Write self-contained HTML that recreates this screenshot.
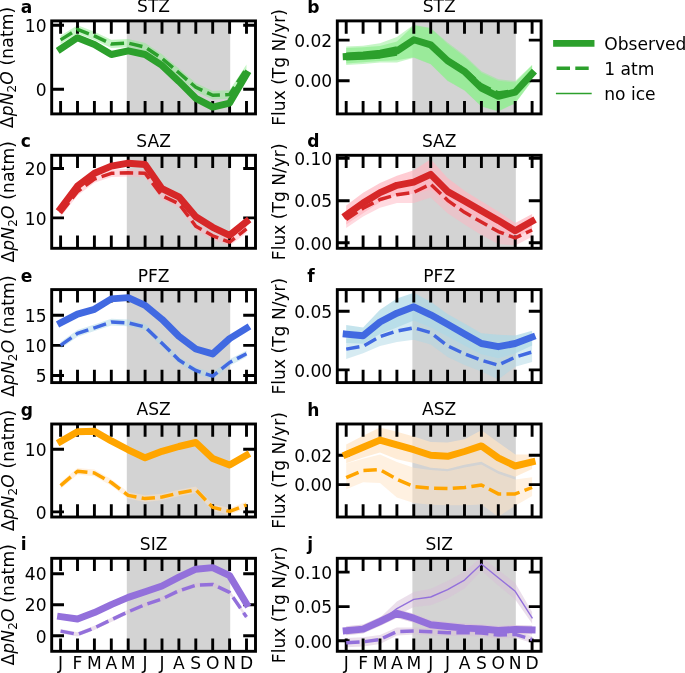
<!DOCTYPE html>
<html lang="en"><head><meta charset="utf-8"><title>Seasonal cycle of N2O by zone</title>
<style>html,body{margin:0;padding:0;background:#fff}body{width:685px;height:673px;overflow:hidden}svg{display:block}text{font-family:"DejaVu Sans","Liberation Sans",sans-serif;font-size:17.10px;fill:#000}.b{font-weight:bold}.i{font-style:oblique}</style></head><body>
<svg width="685" height="673" viewBox="0 0 685 673">
<rect width="685" height="673" fill="#fff"/>
<!-- panel a -->
<clipPath id="cpa"><rect x="51.7" y="20.9" width="203.8" height="93.0"/></clipPath>
<g clip-path="url(#cpa)">
<rect x="126.8" y="20.9" width="103.4" height="93.0" fill="#d3d3d3"/>
<polygon points="60.6,45.9 77.5,34.7 94.4,41.4 111.3,51.5 128.2,47.8 145.1,51.5 162.0,62.4 178.9,78.4 195.8,95.3 212.7,104.1 229.6,100.1 246.5,71.3 246.5,77.3 229.6,106.1 212.7,110.1 195.8,101.3 178.9,84.4 162.0,68.4 145.1,57.5 128.2,53.8 111.3,57.5 94.4,47.4 77.5,40.7 60.6,51.9" fill="#90ee90" fill-opacity="0.7"/>
<polygon points="60.6,35.7 77.5,25.2 94.4,31.7 111.3,39.7 128.2,38.9 145.1,42.9 162.0,54.2 178.9,68.6 195.8,83.1 212.7,91.1 229.6,90.3 246.5,64.4 246.5,72.8 229.6,98.7 212.7,99.5 195.8,91.5 178.9,77.0 162.0,62.6 145.1,51.3 128.2,47.3 111.3,48.1 94.4,40.1 77.5,33.6 60.6,44.1" fill="#90ee90" fill-opacity="0.5"/>
<path d="M60.6 20.9v12.8M60.6 113.9v-12.8M77.5 20.9v12.8M77.5 113.9v-12.8M94.4 20.9v12.8M94.4 113.9v-12.8M111.3 20.9v12.8M111.3 113.9v-12.8M128.2 20.9v12.8M128.2 113.9v-12.8M145.1 20.9v12.8M145.1 113.9v-12.8M162.0 20.9v12.8M162.0 113.9v-12.8M178.9 20.9v12.8M178.9 113.9v-12.8M195.8 20.9v12.8M195.8 113.9v-12.8M212.7 20.9v12.8M212.7 113.9v-12.8M229.6 20.9v12.8M229.6 113.9v-12.8M246.5 20.9v12.8M246.5 113.9v-12.8M51.7 25.3h12.3M255.5 25.3h-12.3M51.7 89.2h12.3M255.5 89.2h-12.3" stroke="#000" stroke-width="2.90" fill="none"/>
<polyline points="60.6,48.9 77.5,37.7 94.4,44.4 111.3,54.5 128.2,50.8 145.1,54.5 162.0,65.4 178.9,81.4 195.8,98.3 212.7,107.1 229.6,103.1 246.5,74.3" fill="none" stroke="#2ca02c" stroke-width="6.94" stroke-linecap="square" stroke-linejoin="round"/>
<polyline points="60.6,39.9 77.5,29.4 94.4,35.9 111.3,43.9 128.2,43.1 145.1,47.1 162.0,58.4 178.9,72.8 195.8,87.3 212.7,95.3 229.6,94.5 246.5,68.6" fill="none" stroke="#2ca02c" stroke-width="3.47" stroke-dasharray="13.4 5.3" stroke-linejoin="round"/>
</g>
<rect x="51.7" y="20.9" width="203.8" height="93.0" fill="none" stroke="#000" stroke-width="2.90"/>
<text x="153.6" y="12.2" text-anchor="middle">STZ</text>
<text class="b" x="20.8" y="12.6">a</text>
<text x="46.6" y="32.0" text-anchor="end">10</text>
<text x="46.6" y="95.9" text-anchor="end">0</text>
<text transform="translate(13.3 67.4) rotate(-90)" text-anchor="middle" letter-spacing="0.15">Δ<tspan class="i">pN</tspan><tspan font-size="11.97px" dy="2.8">2</tspan><tspan class="i" dy="-2.8">O</tspan> (natm)</text>
<!-- panel b -->
<clipPath id="cpb"><rect x="337.3" y="20.9" width="203.8" height="93.0"/></clipPath>
<g clip-path="url(#cpb)">
<rect x="412.4" y="20.9" width="103.4" height="93.0" fill="#d3d3d3"/>
<polygon points="346.2,46.5 363.1,45.7 380.0,43.3 396.9,37.0 413.8,24.8 430.7,28.0 447.6,42.4 464.5,55.2 481.4,71.3 498.3,79.3 515.2,80.9 532.1,64.9 532.1,80.9 515.2,103.4 498.3,111.4 481.4,106.6 464.5,90.6 447.6,80.9 430.7,64.2 413.8,57.8 396.9,62.4 380.0,62.6 363.1,63.9 346.2,65.0" fill="#90ee90" fill-opacity="0.5"/>
<polygon points="346.2,48.1 363.1,47.3 380.0,45.9 396.9,41.6 413.8,25.4 430.7,28.3 447.6,43.9 464.5,56.7 481.4,72.8 498.3,80.8 515.2,82.4 532.1,65.2 532.1,80.6 515.2,103.1 498.3,111.1 481.4,106.3 464.5,90.3 447.6,80.6 430.7,63.9 413.8,57.2 396.9,60.3 380.0,61.0 363.1,62.3 346.2,63.4" fill="#90ee90" fill-opacity="0.7"/>
<path d="M346.2 20.9v12.8M346.2 113.9v-12.8M363.1 20.9v12.8M363.1 113.9v-12.8M380.0 20.9v12.8M380.0 113.9v-12.8M396.9 20.9v12.8M396.9 113.9v-12.8M413.8 20.9v12.8M413.8 113.9v-12.8M430.7 20.9v12.8M430.7 113.9v-12.8M447.6 20.9v12.8M447.6 113.9v-12.8M464.5 20.9v12.8M464.5 113.9v-12.8M481.4 20.9v12.8M481.4 113.9v-12.8M498.3 20.9v12.8M498.3 113.9v-12.8M515.2 20.9v12.8M515.2 113.9v-12.8M532.1 20.9v12.8M532.1 113.9v-12.8M337.3 40.1h12.3M541.1 40.1h-12.3M337.3 80.7h12.3M541.1 80.7h-12.3" stroke="#000" stroke-width="2.90" fill="none"/>
<polyline points="346.2,56.0 363.1,54.9 380.0,52.9 396.9,49.1 413.8,39.8 430.7,45.5 447.6,59.6 464.5,69.3 481.4,84.9 498.3,92.9 515.2,90.6 532.1,73.1" fill="none" stroke="#2ca02c" stroke-width="3.47" stroke-dasharray="13.4 5.3" stroke-linejoin="round"/>
<polyline points="346.2,54.3 363.1,53.3 380.0,51.5 396.9,48.0" fill="none" stroke="#2ca02c" stroke-width="3.47" stroke-linejoin="round"/>
<polyline points="346.2,58.7 363.1,58.1 380.0,56.9 396.9,54.0" fill="none" stroke="#2ca02c" stroke-width="3.47" stroke-linejoin="round"/>
<polyline points="346.2,56.5 363.1,55.7 380.0,54.2 396.9,51.0 413.8,39.8 430.7,44.9 447.6,60.8 464.5,71.5 481.4,88.1 498.3,96.3 515.2,92.1 532.1,73.6" fill="none" stroke="#2ca02c" stroke-width="6.94" stroke-linecap="square" stroke-linejoin="round"/>
</g>
<rect x="337.3" y="20.9" width="203.8" height="93.0" fill="none" stroke="#000" stroke-width="2.90"/>
<text x="439.2" y="12.2" text-anchor="middle">STZ</text>
<text class="b" x="307.3" y="12.6">b</text>
<text x="332.2" y="46.8" text-anchor="end">0.02</text>
<text x="332.2" y="87.4" text-anchor="end">0.00</text>
<text transform="translate(284.5 67.4) rotate(-90)" text-anchor="middle">Flux (Tg N/yr)</text>
<!-- panel c -->
<clipPath id="cpc"><rect x="51.7" y="155.3" width="203.8" height="93.0"/></clipPath>
<g clip-path="url(#cpc)">
<rect x="126.8" y="155.3" width="103.4" height="93.0" fill="#d3d3d3"/>
<polygon points="60.6,206.1 77.5,183.6 94.4,170.8 111.3,163.6 128.2,160.7 145.1,162.0 162.0,186.2 178.9,194.3 195.8,214.3 212.7,224.8 229.6,232.8 246.5,219.2 246.5,224.2 229.6,237.8 212.7,229.8 195.8,219.3 178.9,199.3 162.0,191.2 145.1,167.0 128.2,165.7 111.3,168.6 94.4,175.8 77.5,188.6 60.6,211.1" fill="#ffb6c1" fill-opacity="0.7"/>
<polygon points="60.6,209.4 77.5,187.8 94.4,175.2 111.3,169.5 128.2,169.0 145.1,169.5 162.0,191.9 178.9,199.9 195.8,222.4 212.7,232.0 229.6,238.4 246.5,225.1 246.5,232.7 229.6,246.0 212.7,239.6 195.8,230.0 178.9,207.5 162.0,199.5 145.1,177.1 128.2,176.6 111.3,177.1 94.4,182.8 77.5,195.4 60.6,217.0" fill="#ffb6c1" fill-opacity="0.5"/>
<path d="M60.6 155.3v12.8M60.6 248.3v-12.8M77.5 155.3v12.8M77.5 248.3v-12.8M94.4 155.3v12.8M94.4 248.3v-12.8M111.3 155.3v12.8M111.3 248.3v-12.8M128.2 155.3v12.8M128.2 248.3v-12.8M145.1 155.3v12.8M145.1 248.3v-12.8M162.0 155.3v12.8M162.0 248.3v-12.8M178.9 155.3v12.8M178.9 248.3v-12.8M195.8 155.3v12.8M195.8 248.3v-12.8M212.7 155.3v12.8M212.7 248.3v-12.8M229.6 155.3v12.8M229.6 248.3v-12.8M246.5 155.3v12.8M246.5 248.3v-12.8M51.7 168.5h12.3M255.5 168.5h-12.3M51.7 217.9h12.3M255.5 217.9h-12.3" stroke="#000" stroke-width="2.90" fill="none"/>
<polyline points="60.6,208.6 77.5,186.1 94.4,173.3 111.3,166.1 128.2,163.2 145.1,164.5 162.0,188.7 178.9,196.8 195.8,216.8 212.7,227.3 229.6,235.3 246.5,221.7" fill="none" stroke="#d62728" stroke-width="6.94" stroke-linecap="square" stroke-linejoin="round"/>
<polyline points="60.6,213.2 77.5,191.6 94.4,179.0 111.3,173.3 128.2,172.8 145.1,173.3 162.0,195.7 178.9,203.7 195.8,226.2 212.7,235.8 229.6,242.2 246.5,228.9" fill="none" stroke="#d62728" stroke-width="3.47" stroke-dasharray="13.4 5.3" stroke-linejoin="round"/>
</g>
<rect x="51.7" y="155.3" width="203.8" height="93.0" fill="none" stroke="#000" stroke-width="2.90"/>
<text x="153.6" y="146.6" text-anchor="middle">SAZ</text>
<text class="b" x="20.8" y="147.0">c</text>
<text x="46.6" y="175.2" text-anchor="end">20</text>
<text x="46.6" y="224.6" text-anchor="end">10</text>
<text transform="translate(13.7 201.8) rotate(-90)" text-anchor="middle" letter-spacing="0.15">Δ<tspan class="i">pN</tspan><tspan font-size="11.97px" dy="2.8">2</tspan><tspan class="i" dy="-2.8">O</tspan> (natm)</text>
<!-- panel d -->
<clipPath id="cpd"><rect x="337.3" y="155.3" width="203.8" height="93.0"/></clipPath>
<g clip-path="url(#cpd)">
<rect x="412.4" y="155.3" width="103.4" height="93.0" fill="#d3d3d3"/>
<polygon points="346.2,205.5 363.1,192.7 380.0,183.0 396.9,175.8 413.8,170.2 430.7,159.3 447.6,177.9 464.5,190.7 481.4,201.2 498.3,211.6 515.2,222.9 532.1,214.0 532.1,228.4 515.2,238.7 498.3,229.2 481.4,220.2 464.5,211.5 447.6,204.9 430.7,189.5 413.8,194.0 396.9,194.8 380.0,202.2 363.1,213.3 346.2,224.5" fill="#ffb6c1" fill-opacity="0.7"/>
<polygon points="346.2,211.3 363.1,200.0 380.0,191.2 396.9,186.4 413.8,181.6 430.7,171.0 447.6,187.3 464.5,200.0 481.4,209.0 498.3,219.3 515.2,230.5 532.1,223.3 532.1,236.7 515.2,245.5 498.3,243.9 481.4,235.0 464.5,224.6 447.6,213.3 430.7,197.4 413.8,203.0 396.9,203.0 380.0,207.8 363.1,216.6 346.2,227.9" fill="#ffb6c1" fill-opacity="0.5"/>
<path d="M346.2 155.3v12.8M346.2 248.3v-12.8M363.1 155.3v12.8M363.1 248.3v-12.8M380.0 155.3v12.8M380.0 248.3v-12.8M396.9 155.3v12.8M396.9 248.3v-12.8M413.8 155.3v12.8M413.8 248.3v-12.8M430.7 155.3v12.8M430.7 248.3v-12.8M447.6 155.3v12.8M447.6 248.3v-12.8M464.5 155.3v12.8M464.5 248.3v-12.8M481.4 155.3v12.8M481.4 248.3v-12.8M498.3 155.3v12.8M498.3 248.3v-12.8M515.2 155.3v12.8M515.2 248.3v-12.8M532.1 155.3v12.8M532.1 248.3v-12.8M337.3 158.2h12.3M541.1 158.2h-12.3M337.3 200.7h12.3M541.1 200.7h-12.3M337.3 242.8h12.3M541.1 242.8h-12.3" stroke="#000" stroke-width="2.90" fill="none"/>
<polyline points="346.2,215.0 363.1,203.0 380.0,192.6 396.9,185.3 413.8,182.1 430.7,174.4 447.6,191.4 464.5,201.1 481.4,210.7 498.3,220.4 515.2,230.8 532.1,221.2" fill="none" stroke="#d62728" stroke-width="6.94" stroke-linecap="square" stroke-linejoin="round"/>
<polyline points="346.2,219.6 363.1,208.3 380.0,199.5 396.9,194.7 413.8,192.3 430.7,184.2 447.6,200.3 464.5,212.3 481.4,222.0 498.3,231.6 515.2,238.0 532.1,230.0" fill="none" stroke="#d62728" stroke-width="3.47" stroke-dasharray="13.4 5.3" stroke-linejoin="round"/>
</g>
<rect x="337.3" y="155.3" width="203.8" height="93.0" fill="none" stroke="#000" stroke-width="2.90"/>
<text x="439.2" y="146.6" text-anchor="middle">SAZ</text>
<text class="b" x="307.3" y="147.0">d</text>
<text x="332.2" y="164.9" text-anchor="end">0.10</text>
<text x="332.2" y="207.4" text-anchor="end">0.05</text>
<text x="332.2" y="249.5" text-anchor="end">0.00</text>
<text transform="translate(284.5 201.8) rotate(-90)" text-anchor="middle">Flux (Tg N/yr)</text>
<!-- panel e -->
<clipPath id="cpe"><rect x="51.7" y="289.6" width="203.8" height="93.0"/></clipPath>
<g clip-path="url(#cpe)">
<rect x="126.8" y="289.6" width="103.4" height="93.0" fill="#d3d3d3"/>
<polygon points="60.6,320.4 77.5,311.6 94.4,306.8 111.3,296.4 128.2,295.1 145.1,302.8 162.0,316.8 178.9,333.7 195.8,346.5 212.7,351.4 229.6,336.1 246.5,325.7 246.5,330.7 229.6,341.1 212.7,356.4 195.8,351.5 178.9,338.7 162.0,321.8 145.1,307.8 128.2,300.1 111.3,301.4 94.4,311.8 77.5,316.6 60.6,325.4" fill="#add8e6" fill-opacity="0.7"/>
<polygon points="60.6,342.1 77.5,330.1 94.4,324.5 111.3,318.8 128.2,319.6 145.1,323.7 162.0,339.9 178.9,356.8 195.8,367.2 212.7,372.8 229.6,359.2 246.5,350.4 246.5,357.0 229.6,365.8 212.7,379.4 195.8,373.8 178.9,363.4 162.0,346.5 145.1,330.3 128.2,326.2 111.3,325.4 94.4,331.1 77.5,336.7 60.6,348.7" fill="#add8e6" fill-opacity="0.5"/>
<path d="M60.6 289.6v12.8M60.6 382.6v-12.8M77.5 289.6v12.8M77.5 382.6v-12.8M94.4 289.6v12.8M94.4 382.6v-12.8M111.3 289.6v12.8M111.3 382.6v-12.8M128.2 289.6v12.8M128.2 382.6v-12.8M145.1 289.6v12.8M145.1 382.6v-12.8M162.0 289.6v12.8M162.0 382.6v-12.8M178.9 289.6v12.8M178.9 382.6v-12.8M195.8 289.6v12.8M195.8 382.6v-12.8M212.7 289.6v12.8M212.7 382.6v-12.8M229.6 289.6v12.8M229.6 382.6v-12.8M246.5 289.6v12.8M246.5 382.6v-12.8M51.7 315.2h12.3M255.5 315.2h-12.3M51.7 345.4h12.3M255.5 345.4h-12.3M51.7 375.5h12.3M255.5 375.5h-12.3" stroke="#000" stroke-width="2.90" fill="none"/>
<polyline points="60.6,322.9 77.5,314.1 94.4,309.3 111.3,298.9 128.2,297.6 145.1,305.3 162.0,319.3 178.9,336.2 195.8,349.0 212.7,353.9 229.6,338.6 246.5,328.2" fill="none" stroke="#4169e1" stroke-width="6.94" stroke-linecap="square" stroke-linejoin="round"/>
<polyline points="60.6,345.4 77.5,333.4 94.4,327.8 111.3,322.1 128.2,322.9 145.1,327.0 162.0,343.2 178.9,360.1 195.8,370.5 212.7,376.1 229.6,362.5 246.5,353.7" fill="none" stroke="#4169e1" stroke-width="3.47" stroke-dasharray="13.4 5.3" stroke-linejoin="round"/>
</g>
<rect x="51.7" y="289.6" width="203.8" height="93.0" fill="none" stroke="#000" stroke-width="2.90"/>
<text x="153.6" y="281.5" text-anchor="middle">PFZ</text>
<text class="b" x="20.8" y="281.9">e</text>
<text x="46.6" y="321.9" text-anchor="end">15</text>
<text x="46.6" y="352.1" text-anchor="end">10</text>
<text x="46.6" y="382.2" text-anchor="end">5</text>
<text transform="translate(13.7 336.1) rotate(-90)" text-anchor="middle" letter-spacing="0.15">Δ<tspan class="i">pN</tspan><tspan font-size="11.97px" dy="2.8">2</tspan><tspan class="i" dy="-2.8">O</tspan> (natm)</text>
<!-- panel f -->
<clipPath id="cpf"><rect x="337.3" y="289.6" width="203.8" height="93.0"/></clipPath>
<g clip-path="url(#cpf)">
<rect x="412.4" y="289.6" width="103.4" height="93.0" fill="#d3d3d3"/>
<polygon points="346.2,325.0 363.1,327.4 380.0,309.7 396.9,298.5 413.8,292.8 430.7,301.7 447.6,313.9 464.5,323.5 481.4,333.2 498.3,334.8 515.2,335.6 532.1,330.8 532.1,345.4 515.2,353.5 498.3,358.3 481.4,354.2 464.5,345.4 447.6,336.6 430.7,327.6 413.8,320.5 396.9,327.6 380.0,334.0 363.1,343.7 346.2,342.9" fill="#add8e6" fill-opacity="0.7"/>
<polygon points="346.2,338.9 363.1,336.2 380.0,322.5 396.9,313.7 413.8,307.3 430.7,315.3 447.6,324.7 464.5,334.4 481.4,344.0 498.3,347.2 515.2,344.0 532.1,337.6 532.1,361.9 515.2,366.7 498.3,379.5 481.4,371.5 464.5,365.1 447.6,357.1 430.7,344.5 413.8,339.7 396.9,342.1 380.0,346.1 363.1,353.3 346.2,359.0" fill="#add8e6" fill-opacity="0.5"/>
<path d="M346.2 289.6v12.8M346.2 382.6v-12.8M363.1 289.6v12.8M363.1 382.6v-12.8M380.0 289.6v12.8M380.0 382.6v-12.8M396.9 289.6v12.8M396.9 382.6v-12.8M413.8 289.6v12.8M413.8 382.6v-12.8M430.7 289.6v12.8M430.7 382.6v-12.8M447.6 289.6v12.8M447.6 382.6v-12.8M464.5 289.6v12.8M464.5 382.6v-12.8M481.4 289.6v12.8M481.4 382.6v-12.8M498.3 289.6v12.8M498.3 382.6v-12.8M515.2 289.6v12.8M515.2 382.6v-12.8M532.1 289.6v12.8M532.1 382.6v-12.8M337.3 311.3h12.3M541.1 311.3h-12.3M337.3 369.9h12.3M541.1 369.9h-12.3" stroke="#000" stroke-width="2.90" fill="none"/>
<polyline points="346.2,334.1 363.1,335.7 380.0,322.0 396.9,313.2 413.8,306.8 430.7,314.8 447.6,324.2 464.5,333.9 481.4,343.5 498.3,346.7 515.2,343.5 532.1,337.1" fill="none" stroke="#4169e1" stroke-width="6.94" stroke-linecap="square" stroke-linejoin="round"/>
<polyline points="346.2,349.1 363.1,346.2 380.0,336.6 396.9,331.0 413.8,327.8 430.7,332.6 447.6,345.8 464.5,353.9 481.4,360.3 498.3,365.1 515.2,357.1 532.1,352.0" fill="none" stroke="#4169e1" stroke-width="3.47" stroke-dasharray="13.4 5.3" stroke-linejoin="round"/>
</g>
<rect x="337.3" y="289.6" width="203.8" height="93.0" fill="none" stroke="#000" stroke-width="2.90"/>
<text x="439.2" y="281.5" text-anchor="middle">PFZ</text>
<text class="b" x="307.3" y="281.9">f</text>
<text x="332.2" y="318.0" text-anchor="end">0.05</text>
<text x="332.2" y="376.6" text-anchor="end">0.00</text>
<text transform="translate(284.5 336.1) rotate(-90)" text-anchor="middle">Flux (Tg N/yr)</text>
<!-- panel g -->
<clipPath id="cpg"><rect x="51.7" y="424.0" width="203.8" height="93.0"/></clipPath>
<g clip-path="url(#cpg)">
<rect x="126.8" y="424.0" width="103.4" height="93.0" fill="#d3d3d3"/>
<polygon points="60.6,439.1 77.5,429.2 94.4,428.8 111.3,438.4 128.2,447.3 145.1,455.3 162.0,448.8 178.9,444.0 195.8,440.0 212.7,456.0 229.6,462.5 246.5,452.8 246.5,457.8 229.6,467.5 212.7,461.0 195.8,445.0 178.9,449.0 162.0,453.8 145.1,460.3 128.2,452.3 111.3,443.4 94.4,433.8 77.5,434.2 60.6,444.1" fill="#ffe4c4" fill-opacity="0.7"/>
<polygon points="60.6,482.3 77.5,468.0 94.4,469.6 111.3,479.2 128.2,492.1 145.1,495.3 162.0,493.7 178.9,489.7 195.8,486.5 212.7,504.1 229.6,508.1 246.5,501.7 246.5,508.3 229.6,514.7 212.7,510.7 195.8,493.1 178.9,496.3 162.0,500.3 145.1,501.9 128.2,498.7 111.3,485.8 94.4,476.2 77.5,474.6 60.6,488.9" fill="#ffe4c4" fill-opacity="0.5"/>
<path d="M60.6 424.0v12.8M60.6 517.0v-12.8M77.5 424.0v12.8M77.5 517.0v-12.8M94.4 424.0v12.8M94.4 517.0v-12.8M111.3 424.0v12.8M111.3 517.0v-12.8M128.2 424.0v12.8M128.2 517.0v-12.8M145.1 424.0v12.8M145.1 517.0v-12.8M162.0 424.0v12.8M162.0 517.0v-12.8M178.9 424.0v12.8M178.9 517.0v-12.8M195.8 424.0v12.8M195.8 517.0v-12.8M212.7 424.0v12.8M212.7 517.0v-12.8M229.6 424.0v12.8M229.6 517.0v-12.8M246.5 424.0v12.8M246.5 517.0v-12.8M51.7 449.2h12.3M255.5 449.2h-12.3M51.7 511.9h12.3M255.5 511.9h-12.3" stroke="#000" stroke-width="2.90" fill="none"/>
<polyline points="60.6,441.6 77.5,431.7 94.4,431.3 111.3,440.9 128.2,449.8 145.1,457.8 162.0,451.3 178.9,446.5 195.8,442.5 212.7,458.5 229.6,465.0 246.5,455.3" fill="none" stroke="#ffa500" stroke-width="6.94" stroke-linecap="square" stroke-linejoin="round"/>
<polyline points="60.6,485.6 77.5,471.3 94.4,472.9 111.3,482.5 128.2,495.4 145.1,498.6 162.0,497.0 178.9,493.0 195.8,489.8 212.7,507.4 229.6,511.4 246.5,505.0" fill="none" stroke="#ffa500" stroke-width="3.47" stroke-dasharray="13.4 5.3" stroke-linejoin="round"/>
</g>
<rect x="51.7" y="424.0" width="203.8" height="93.0" fill="none" stroke="#000" stroke-width="2.90"/>
<text x="153.6" y="415.1" text-anchor="middle">ASZ</text>
<text class="b" x="20.8" y="415.5">g</text>
<text x="46.6" y="455.9" text-anchor="end">10</text>
<text x="46.6" y="518.6" text-anchor="end">0</text>
<text transform="translate(13.7 470.5) rotate(-90)" text-anchor="middle" letter-spacing="0.15">Δ<tspan class="i">pN</tspan><tspan font-size="11.97px" dy="2.8">2</tspan><tspan class="i" dy="-2.8">O</tspan> (natm)</text>
<!-- panel h -->
<clipPath id="cph"><rect x="337.3" y="424.0" width="203.8" height="93.0"/></clipPath>
<g clip-path="url(#cph)">
<rect x="412.4" y="424.0" width="103.4" height="93.0" fill="#d3d3d3"/>
<polygon points="346.2,444.5 363.1,435.7 380.0,427.6 396.9,431.7 413.8,436.5 430.7,442.1 447.6,442.4 464.5,439.2 481.4,430.3 498.3,442.4 515.2,454.4 532.1,454.4 532.1,469.1 515.2,476.7 498.3,471.1 481.4,461.8 464.5,464.7 447.6,469.1 430.7,467.8 413.8,463.1 396.9,459.3 380.0,452.6 363.1,457.4 346.2,463.2" fill="#ffe4c4" fill-opacity="0.7"/>
<polygon points="346.2,463.4 363.1,458.7 380.0,454.4 396.9,462.0 413.8,467.8 430.7,469.9 447.6,471.2 464.5,467.6 481.4,464.5 498.3,473.8 515.2,479.4 532.1,477.2 532.1,496.0 515.2,505.7 498.3,516.7 481.4,504.4 464.5,505.2 447.6,505.2 430.7,504.7 413.8,503.1 396.9,497.5 380.0,483.0 363.1,482.2 346.2,489.3" fill="#ffe4c4" fill-opacity="0.5"/>
<path d="M346.2 424.0v12.8M346.2 517.0v-12.8M363.1 424.0v12.8M363.1 517.0v-12.8M380.0 424.0v12.8M380.0 517.0v-12.8M396.9 424.0v12.8M396.9 517.0v-12.8M413.8 424.0v12.8M413.8 517.0v-12.8M430.7 424.0v12.8M430.7 517.0v-12.8M447.6 424.0v12.8M447.6 517.0v-12.8M464.5 424.0v12.8M464.5 517.0v-12.8M481.4 424.0v12.8M481.4 517.0v-12.8M498.3 424.0v12.8M498.3 517.0v-12.8M515.2 424.0v12.8M515.2 517.0v-12.8M532.1 424.0v12.8M532.1 517.0v-12.8M337.3 455.3h12.3M541.1 455.3h-12.3M337.3 484.6h12.3M541.1 484.6h-12.3" stroke="#000" stroke-width="2.90" fill="none"/>
<polyline points="346.2,454.5 363.1,447.3 380.0,440.1 396.9,444.9 413.8,449.7 430.7,455.3 447.6,456.3 464.5,451.5 481.4,445.9 498.3,457.9 515.2,466.0 532.1,462.0" fill="none" stroke="#ffa500" stroke-width="6.94" stroke-linecap="square" stroke-linejoin="round"/>
<polyline points="346.2,477.7 363.1,470.5 380.0,469.7 396.9,479.3 413.8,486.6 430.7,488.2 447.6,488.6 464.5,487.5 481.4,485.0 498.3,493.9 515.2,493.9 532.1,487.5" fill="none" stroke="#ffa500" stroke-width="3.47" stroke-dasharray="13.4 5.3" stroke-linejoin="round"/>
</g>
<rect x="337.3" y="424.0" width="203.8" height="93.0" fill="none" stroke="#000" stroke-width="2.90"/>
<text x="439.2" y="415.1" text-anchor="middle">ASZ</text>
<text class="b" x="307.3" y="415.5">h</text>
<text x="332.2" y="462.0" text-anchor="end">0.02</text>
<text x="332.2" y="491.3" text-anchor="end">0.00</text>
<text transform="translate(284.5 470.5) rotate(-90)" text-anchor="middle">Flux (Tg N/yr)</text>
<!-- panel i -->
<clipPath id="cpi"><rect x="51.7" y="558.3" width="203.8" height="93.0"/></clipPath>
<g clip-path="url(#cpi)">
<rect x="126.8" y="558.3" width="103.4" height="93.0" fill="#d3d3d3"/>
<polygon points="60.6,614.6 77.5,617.0 94.4,610.6 111.3,602.6 128.2,595.4 145.1,589.7 162.0,584.0 178.9,575.2 195.8,567.2 212.7,565.6 229.6,573.6 246.5,601.7 246.5,605.7 229.6,577.6 212.7,569.6 195.8,571.2 178.9,579.2 162.0,588.0 145.1,593.7 128.2,599.4 111.3,606.6 94.4,614.6 77.5,621.0 60.6,618.6" fill="#d8bfd8" fill-opacity="0.7"/>
<polygon points="60.6,629.0 77.5,632.2 94.4,625.8 111.3,617.7 128.2,609.7 145.1,602.5 162.0,596.8 178.9,588.7 195.8,583.1 212.7,582.3 229.6,590.3 246.5,614.9 246.5,619.1 229.6,594.5 212.7,586.5 195.8,587.3 178.9,592.9 162.0,601.0 145.1,606.7 128.2,613.9 111.3,621.9 94.4,630.0 77.5,636.4 60.6,633.2" fill="#d8bfd8" fill-opacity="0.5"/>
<path d="M60.6 558.3v12.8M60.6 651.3v-12.8M77.5 558.3v12.8M77.5 651.3v-12.8M94.4 558.3v12.8M94.4 651.3v-12.8M111.3 558.3v12.8M111.3 651.3v-12.8M128.2 558.3v12.8M128.2 651.3v-12.8M145.1 558.3v12.8M145.1 651.3v-12.8M162.0 558.3v12.8M162.0 651.3v-12.8M178.9 558.3v12.8M178.9 651.3v-12.8M195.8 558.3v12.8M195.8 651.3v-12.8M212.7 558.3v12.8M212.7 651.3v-12.8M229.6 558.3v12.8M229.6 651.3v-12.8M246.5 558.3v12.8M246.5 651.3v-12.8M51.7 573.7h12.3M255.5 573.7h-12.3M51.7 604.7h12.3M255.5 604.7h-12.3M51.7 635.8h12.3M255.5 635.8h-12.3" stroke="#000" stroke-width="2.90" fill="none"/>
<polyline points="60.6,616.6 77.5,619.0 94.4,612.6 111.3,604.6 128.2,597.4 145.1,591.7 162.0,586.0 178.9,577.2 195.8,569.2 212.7,567.6 229.6,575.6 246.5,603.7" fill="none" stroke="#9370db" stroke-width="6.94" stroke-linecap="square" stroke-linejoin="round"/>
<polyline points="60.6,631.1 77.5,634.3 94.4,627.9 111.3,619.8 128.2,611.8 145.1,604.6 162.0,598.9 178.9,590.8 195.8,585.2 212.7,584.4 229.6,592.4 246.5,617.0" fill="none" stroke="#9370db" stroke-width="3.47" stroke-dasharray="13.4 5.3" stroke-linejoin="round"/>
</g>
<rect x="51.7" y="558.3" width="203.8" height="93.0" fill="none" stroke="#000" stroke-width="2.90"/>
<text x="153.6" y="549.6" text-anchor="middle">SIZ</text>
<text class="b" x="20.8" y="550.0">i</text>
<text x="46.6" y="580.4" text-anchor="end">40</text>
<text x="46.6" y="611.4" text-anchor="end">20</text>
<text x="46.6" y="642.5" text-anchor="end">0</text>
<text transform="translate(13.7 604.8) rotate(-90)" text-anchor="middle" letter-spacing="0.15">Δ<tspan class="i">pN</tspan><tspan font-size="11.97px" dy="2.8">2</tspan><tspan class="i" dy="-2.8">O</tspan> (natm)</text>
<text x="60.6" y="669.3" text-anchor="middle">J</text>
<text x="77.5" y="669.3" text-anchor="middle">F</text>
<text x="94.4" y="669.3" text-anchor="middle">M</text>
<text x="111.3" y="669.3" text-anchor="middle">A</text>
<text x="128.2" y="669.3" text-anchor="middle">M</text>
<text x="145.1" y="669.3" text-anchor="middle">J</text>
<text x="162.0" y="669.3" text-anchor="middle">J</text>
<text x="178.9" y="669.3" text-anchor="middle">A</text>
<text x="195.8" y="669.3" text-anchor="middle">S</text>
<text x="212.7" y="669.3" text-anchor="middle">O</text>
<text x="229.6" y="669.3" text-anchor="middle">N</text>
<text x="246.5" y="669.3" text-anchor="middle">D</text>
<!-- panel j -->
<clipPath id="cpj"><rect x="337.3" y="558.3" width="203.8" height="93.0"/></clipPath>
<g clip-path="url(#cpj)">
<rect x="412.4" y="558.3" width="103.4" height="93.0" fill="#d3d3d3"/>
<polygon points="346.2,628.2 363.1,626.6 380.0,617.7 396.9,601.6 413.8,591.9 430.7,588.7 447.6,580.9 464.5,571.8 481.4,557.2 498.3,569.9 515.2,583.0 532.1,612.0 532.1,623.6 515.2,599.6 498.3,585.5 481.4,570.8 464.5,588.4 447.6,598.5 430.7,605.3 413.8,606.9 396.9,615.6 380.0,625.3 363.1,631.6 346.2,633.2" fill="#d8bfd8" fill-opacity="0.5"/>
<polygon points="346.2,626.2 363.1,624.6 380.0,617.0 396.9,608.9 413.8,613.7 430.7,620.2 447.6,622.0 464.5,623.6 481.4,624.4 498.3,626.0 515.2,624.9 532.1,625.4 532.1,634.4 515.2,633.9 498.3,635.0 481.4,633.4 464.5,632.6 447.6,631.0 430.7,629.2 413.8,622.7 396.9,617.9 380.0,626.0 363.1,633.6 346.2,635.2" fill="#d8bfd8" fill-opacity="0.7"/>
<polygon points="346.2,638.1 363.1,637.3 380.0,634.9 396.9,627.5 413.8,627.4 430.7,628.4 447.6,629.3 464.5,629.3 481.4,629.6 498.3,631.7 515.2,630.9 532.1,636.1 532.1,642.9 515.2,637.7 498.3,638.5 481.4,636.4 464.5,636.1 447.6,636.1 430.7,635.2 413.8,634.6 396.9,635.5 380.0,644.1 363.1,646.5 346.2,647.3" fill="#d8bfd8" fill-opacity="0.5"/>
<path d="M346.2 558.3v12.8M346.2 651.3v-12.8M363.1 558.3v12.8M363.1 651.3v-12.8M380.0 558.3v12.8M380.0 651.3v-12.8M396.9 558.3v12.8M396.9 651.3v-12.8M413.8 558.3v12.8M413.8 651.3v-12.8M430.7 558.3v12.8M430.7 651.3v-12.8M447.6 558.3v12.8M447.6 651.3v-12.8M464.5 558.3v12.8M464.5 651.3v-12.8M481.4 558.3v12.8M481.4 651.3v-12.8M498.3 558.3v12.8M498.3 651.3v-12.8M515.2 558.3v12.8M515.2 651.3v-12.8M532.1 558.3v12.8M532.1 651.3v-12.8M337.3 572.1h12.3M541.1 572.1h-12.3M337.3 606.6h12.3M541.1 606.6h-12.3M337.3 640.8h12.3M541.1 640.8h-12.3" stroke="#000" stroke-width="2.90" fill="none"/>
<polyline points="346.2,630.7 363.1,629.1 380.0,621.5 396.9,608.6 413.8,599.4 430.7,597.0 447.6,589.7 464.5,580.1 481.4,564.0 498.3,577.7 515.2,591.3 532.1,617.8" fill="none" stroke="#9370db" stroke-width="1.39" stroke-linecap="square" stroke-linejoin="round"/>
<polyline points="346.2,630.7 363.1,629.1 380.0,621.5 396.9,613.4 413.8,618.2 430.7,624.7 447.6,626.5 464.5,628.1 481.4,628.9 498.3,630.5 515.2,629.4 532.1,629.9" fill="none" stroke="#9370db" stroke-width="6.94" stroke-linecap="square" stroke-linejoin="round"/>
<polyline points="346.2,642.7 363.1,641.9 380.0,639.5 396.9,631.5 413.8,631.0 430.7,631.8 447.6,632.7 464.5,632.7 481.4,633.0 498.3,635.1 515.2,634.3 532.1,639.5" fill="none" stroke="#9370db" stroke-width="3.47" stroke-dasharray="13.4 5.3" stroke-linejoin="round"/>
</g>
<rect x="337.3" y="558.3" width="203.8" height="93.0" fill="none" stroke="#000" stroke-width="2.90"/>
<text x="439.2" y="549.6" text-anchor="middle">SIZ</text>
<text class="b" x="307.3" y="550.0">j</text>
<text x="332.2" y="578.8" text-anchor="end">0.10</text>
<text x="332.2" y="613.3" text-anchor="end">0.05</text>
<text x="332.2" y="647.5" text-anchor="end">0.00</text>
<text transform="translate(284.5 604.8) rotate(-90)" text-anchor="middle">Flux (Tg N/yr)</text>
<text x="346.2" y="669.3" text-anchor="middle">J</text>
<text x="363.1" y="669.3" text-anchor="middle">F</text>
<text x="380.0" y="669.3" text-anchor="middle">M</text>
<text x="396.9" y="669.3" text-anchor="middle">A</text>
<text x="413.8" y="669.3" text-anchor="middle">M</text>
<text x="430.7" y="669.3" text-anchor="middle">J</text>
<text x="447.6" y="669.3" text-anchor="middle">J</text>
<text x="464.5" y="669.3" text-anchor="middle">A</text>
<text x="481.4" y="669.3" text-anchor="middle">S</text>
<text x="498.3" y="669.3" text-anchor="middle">O</text>
<text x="515.2" y="669.3" text-anchor="middle">N</text>
<text x="532.1" y="669.3" text-anchor="middle">D</text>
<!-- legend -->
<path d="M556.6 43.4H591" stroke="#2ca02c" stroke-width="6.94" stroke-linecap="square" fill="none"/>
<path d="M556.6 68.3H591" stroke="#2ca02c" stroke-width="3.47" stroke-dasharray="13.4 5.3" fill="none"/>
<path d="M556.6 93.5H591" stroke="#2ca02c" stroke-width="1.39" stroke-linecap="square" fill="none"/>
<text x="604.2" y="49.7">Observed</text>
<text x="604.2" y="74.5">1 atm</text>
<text x="604.2" y="100.0">no ice</text>
</svg></body></html>
